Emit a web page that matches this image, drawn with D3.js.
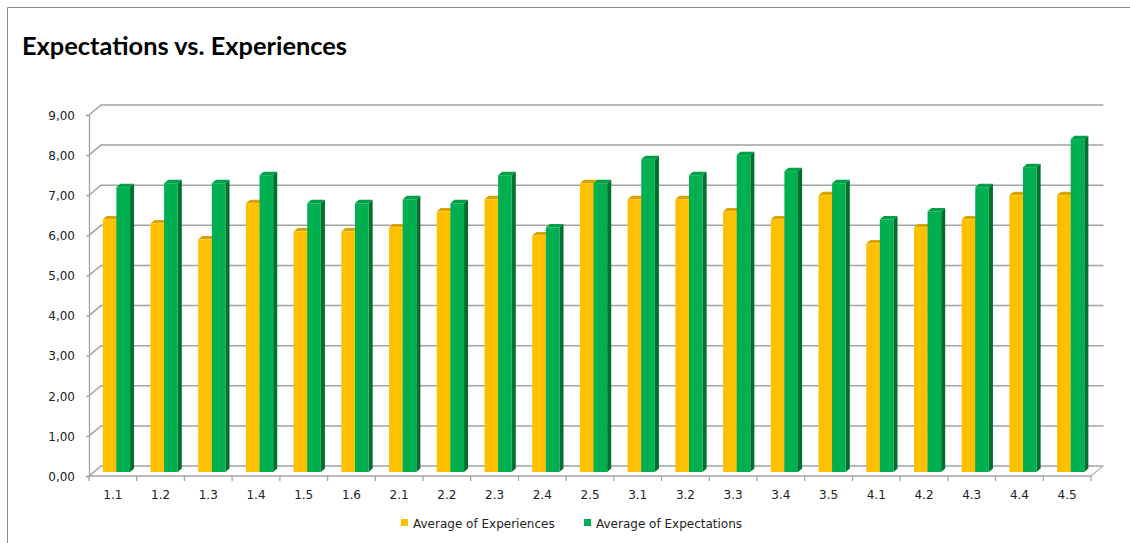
<!DOCTYPE html>
<html>
<head>
<meta charset="utf-8">
<script src="https://cdn.jsdelivr.net/npm/d3@7"></script>
<style>
  body { margin: 0; background: #fff; }
  svg { display: block; }
  .lbl { font-family: "DejaVu Sans", sans-serif; fill: #222; }
</style>
</head>
<body>
<div id="chart"></div>
<script>
// categories + the two series
var categories = ["1.1","1.2","1.3","1.4","1.5","1.6","2.1","2.2","2.3","2.4","2.5",
                  "3.1","3.2","3.3","3.4","3.5","4.1","4.2","4.3","4.4","4.5"];
var experiences  = [6.3,6.2,5.8,6.7,6.0,6.0,6.1,6.5,6.8,5.9,7.2,6.8,6.8,6.5,6.3,6.9,5.7,6.1,6.3,6.9,6.9];
var expectations = [7.1,7.2,7.2,7.4,6.7,6.7,6.8,6.7,7.4,6.1,7.2,7.8,7.4,7.9,7.5,7.2,6.3,6.5,7.1,7.6,8.3];
var seriesNames = ["Average of Experiences", "Average of Expectations"];
var yTicks = [0,1,2,3,4,5,6,7,8,9];

var width = 1130, height = 543;
var plotL = 89, plotR = 1091, plotB = 476, plotT = 115;
var depthX = 12, depthY = -10;   // offset of the back wall

// colours: front, top, side
var palette = [
  { front: "#FFC000", top: "#DCA300", side: "#B98A00" },
  { front: "#00B050", top: "#00A046", side: "#00702F" }
];

var svg = d3.select("#chart").append("svg")
    .attr("width", width)
    .attr("height", height);

// outer frame (only top and left are in the crop)
svg.append("path")
    .attr("d", "M7.5," + height + "V7.5H" + width)
    .attr("fill", "none")
    .attr("stroke", "#8a8a8a")
    .attr("stroke-width", 1);

svg.append("text")
    .attr("x", 22)
    .attr("y", 55)
    .attr("textLength", 325)
    .attr("lengthAdjust", "spacingAndGlyphs")
    .style("font-family", "Lato, 'Open Sans', sans-serif")
    .style("font-weight", "bold")
    .style("font-size", "24px")
    .style("fill", "#000")
    .text("Expectations vs. Experiences");

var x = d3.scaleBand().domain(categories).range([plotL, plotR]);
var y = d3.scaleLinear().domain([0, 9]).range([plotB, plotT]);

// back wall gridlines + side wall diagonals
var grid = svg.append("g");
yTicks.forEach(function(v) {
  grid.append("path")
      .attr("d", "M" + plotL + "," + y(v) +
                 "L" + (plotL + depthX) + "," + (y(v) + depthY) +
                 "H" + (plotR + depthX + 0.5))
      .attr("fill", "none")
      .attr("stroke", "#a3a3a3")
      .attr("stroke-width", 1.5);
});

// floor right diagonal
svg.append("path")
    .attr("d", "M" + plotR + "," + plotB + "L" + (plotR + depthX) + "," + (plotB + depthY))
    .attr("fill", "none")
    .attr("stroke", "#b5b5b5")
    .attr("stroke-width", 1.2);

// y axis
var yAxis = d3.axisLeft(y)
    .tickValues(yTicks)
    .tickSize(3)
    .tickPadding(11)
    .tickFormat(function(d) { return d3.format(".2f")(d).replace(".", ","); });

var ya = svg.append("g")
    .attr("transform", "translate(" + plotL + ",0)")
    .call(yAxis);
ya.selectAll("path, line").attr("stroke", "#a3a3a3").attr("stroke-width", 1.3);
ya.selectAll("text").attr("class", "lbl").style("font-size", "12px").attr("dy", "0.36em");

// x axis: front edge, ticks at band boundaries
var xa = svg.append("g");
xa.append("line")
    .attr("x1", plotL).attr("x2", plotR)
    .attr("y1", plotB).attr("y2", plotB)
    .attr("stroke", "#a3a3a3").attr("stroke-width", 1.3);
xa.selectAll(".tk")
    .data(categories.concat(["end"]))
    .enter().append("line")
    .attr("x1", function(d, i) { return plotL + i * x.bandwidth(); })
    .attr("x2", function(d, i) { return plotL + i * x.bandwidth(); })
    .attr("y1", plotB).attr("y2", plotB + 5)
    .attr("stroke", "#a3a3a3").attr("stroke-width", 1.3);
xa.selectAll(".cat")
    .data(categories)
    .enter().append("text")
    .attr("class", "lbl")
    .attr("x", function(d) { return x(d) + x.bandwidth() / 2; })
    .attr("y", 499)
    .attr("text-anchor", "middle")
    .style("font-size", "12px")
    .text(function(d) { return d; });

// bars, drawn as small 3d boxes
var barW = 13.6;
var zFront = 0.4, zDepth = 0.34;
var offX = depthX * zFront, offY = depthY * zFront;
var sdx = depthX * zDepth, sdy = depthY * zDepth;
var inner = d3.scaleBand().domain([0, 1]).range([0, barW * 2]);

var bars = [];
categories.forEach(function(c, i) {
  bars.push({ cat: c, s: 0, v: experiences[i] });
  bars.push({ cat: c, s: 1, v: expectations[i] });
});

var g = svg.append("g");
var box = g.selectAll(".bar")
    .data(bars)
    .enter().append("g")
    .attr("class", "bar");

function x0(d) { return x(d.cat) + 9 + inner(d.s) + offX; }
function yTop(d) { return y(d.v) + offY; }
function yBot() { return y(0) + offY; }

box.append("path")   // side
    .attr("fill", function(d) { return palette[d.s].side; })
    .attr("d", function(d) {
      var xr = x0(d) + barW;
      return "M" + xr + "," + yBot() + "L" + (xr + sdx) + "," + (yBot() + sdy) +
             "L" + (xr + sdx) + "," + (yTop(d) + sdy) + "L" + xr + "," + yTop(d) + "Z";
    });
box.append("path")   // top
    .attr("fill", function(d) { return palette[d.s].top; })
    .attr("d", function(d) {
      var xl = x0(d);
      return "M" + xl + "," + yTop(d) + "L" + (xl + sdx) + "," + (yTop(d) + sdy) +
             "L" + (xl + barW + sdx) + "," + (yTop(d) + sdy) + "L" + (xl + barW) + "," + yTop(d) + "Z";
    });
box.append("rect")   // front
    .attr("x", x0)
    .attr("y", yTop)
    .attr("width", barW)
    .attr("height", function(d) { return yBot() - yTop(d); })
    .attr("fill", function(d) { return palette[d.s].front; });

// legend
var legX = [401, 584];
var leg = svg.selectAll(".leg")
    .data(seriesNames)
    .enter().append("g")
    .attr("transform", function(d, i) { return "translate(" + legX[i] + ",519)"; });
leg.append("rect")
    .attr("width", 7).attr("height", 7)
    .attr("fill", function(d, i) { return palette[i].front; });
leg.append("text")
    .attr("class", "lbl")
    .attr("x", 12)
    .attr("y", 8.5)
    .style("font-size", "12px")
    .text(function(d) { return d; });
</script>
</body>
</html>
